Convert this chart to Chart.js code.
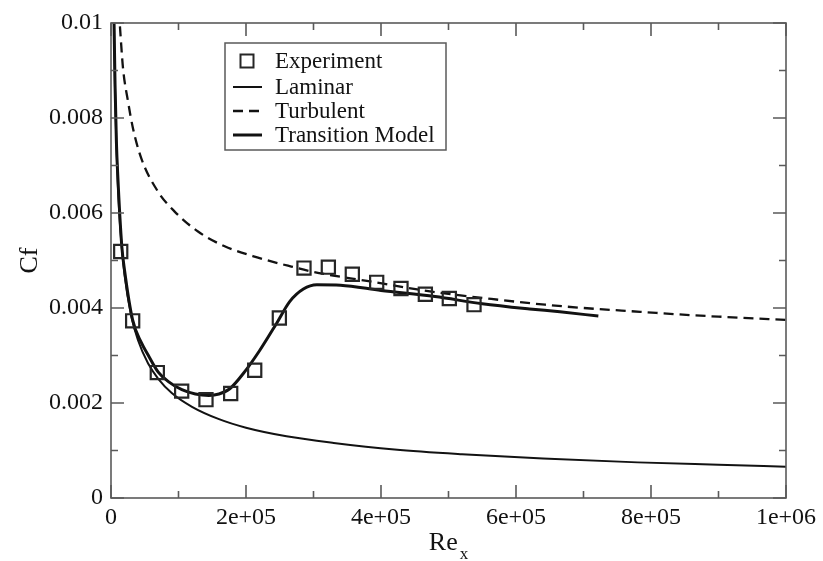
<!DOCTYPE html>
<html>
<head>
<meta charset="utf-8">
<script src="https://cdn.jsdelivr.net/npm/chart.js@4/dist/chart.umd.min.js"></script>
<style>
  html, body { margin: 0; padding: 0; background: #fff; }
  #wrap { width: 823px; height: 561px; }
</style>
</head>
<body>
<div id="wrap"><canvas id="cf" width="823" height="561"></canvas></div>
<script>
// tick labels
const xTickLabels = ['0', '2e+05', '4e+05', '6e+05', '8e+05', '1e+06'];
const yTickLabels = ['0', '0.002', '0.004', '0.006', '0.008', '0.01'];

// experiment (squares)
const expRe = [14400, 32100, 68600, 104700, 140700, 177300, 212900, 249400, 285900, 322000, 357500, 393600, 429600, 465700, 501200, 537800];
const expCf = [0.00519, 0.00373, 0.00264, 0.00225, 0.00207, 0.00220, 0.00269, 0.00379, 0.00484, 0.00486, 0.00471, 0.00454, 0.00441, 0.00429, 0.00420, 0.00407];

// laminar curve
const lamRe = [4000, 5000, 6000, 8000, 10000, 14000, 20000, 30000, 40000, 55000, 70000, 90000, 120000, 160000, 200000, 260000, 330000, 420000, 520000, 640000, 780000, 900000, 1000000];
const lamCf = [0.0105, 0.00939, 0.00857, 0.00742, 0.00664, 0.00561, 0.00470, 0.00383, 0.00332, 0.00283, 0.00251, 0.00221, 0.00192, 0.00166, 0.00148, 0.00130, 0.00116, 0.00102, 0.00092, 0.00083, 0.00075, 0.00070, 0.00066];

// turbulent curve (dashed)
const turbRe = [10000, 12900, 17800, 25200, 32600, 44900, 69600, 94300, 128900, 168400, 217800, 262200, 300000, 379000, 477500, 576000, 643000, 700000, 784000, 858000, 912000, 1000000];
const turbCf = [0.0106, 0.0100, 0.00905, 0.00835, 0.00778, 0.00715, 0.00645, 0.00603, 0.00561, 0.00530, 0.00506, 0.00489, 0.00476, 0.00457, 0.00434, 0.00417, 0.00407, 0.00400, 0.00392, 0.00385, 0.00381, 0.00375];

// transition model curve
const tranRe = [4500, 6000, 8000, 10000, 16000, 20000, 32000, 45000, 55000, 70000, 85000, 105000, 125000, 145000, 160000, 176000, 196000, 220000, 245000, 265000, 285000, 305000, 340000, 400000, 480000, 550000, 620000, 665000, 722000];
const tranCf = [0.0100, 0.0087, 0.0075, 0.0068, 0.0053, 0.0048, 0.00375, 0.00327, 0.00301, 0.00265, 0.00245, 0.00228, 0.00219, 0.00216, 0.00219, 0.00230, 0.00262, 0.00310, 0.00367, 0.00414, 0.00440, 0.00449, 0.00448, 0.00437, 0.00424, 0.00409, 0.00398, 0.00392, 0.00383];

const pts = (xs, ys) => xs.map((x, i) => ({ x: x, y: ys[i] }));

const INK = '#121212';
const AXIS = '#5a5a5a';
const SERIF = '"Liberation Serif", "Times New Roman", serif';

// box, inward ticks on all four sides, axis titles
const frame = {
  id: 'frame',
  afterDatasetsDraw(chart) {
    const { ctx, chartArea: a, scales } = chart;
    const xs = scales.x, ys = scales.y;
    ctx.save();
    ctx.strokeStyle = AXIS;
    ctx.lineWidth = 1.6;
    ctx.strokeRect(a.left, a.top, a.right - a.left, a.bottom - a.top);
    ctx.beginPath();
    for (let v = 0; v <= 1e6 + 1; v += 1e5) {
      const px = xs.getPixelForValue(v);
      const len = (Math.round(v / 1e5) % 2 === 0) ? 13 : 7;
      ctx.moveTo(px, a.bottom); ctx.lineTo(px, a.bottom - len);
      ctx.moveTo(px, a.top); ctx.lineTo(px, a.top + len);
    }
    for (let k = 0; k <= 10; k++) {
      const py = ys.getPixelForValue(k * 0.001);
      const len = (k % 2 === 0) ? 13 : 7;
      ctx.moveTo(a.left, py); ctx.lineTo(a.left + len, py);
      ctx.moveTo(a.right, py); ctx.lineTo(a.right - len, py);
    }
    ctx.stroke();

    // axis titles
    ctx.fillStyle = INK;
    ctx.font = '26px ' + SERIF;
    ctx.textBaseline = 'alphabetic';
    const cx = (a.left + a.right) / 2;
    const reW = ctx.measureText('Re').width;
    ctx.font = '17px ' + SERIF;
    const subW = ctx.measureText('x').width;
    const startX = cx - (reW + subW + 2) / 2;
    ctx.font = '26px ' + SERIF;
    ctx.textAlign = 'left';
    ctx.fillText('Re', startX, 550);
    ctx.font = '17px ' + SERIF;
    ctx.fillText('x', startX + reW + 2, 559);

    ctx.translate(30, (a.top + a.bottom) / 2);
    ctx.rotate(-Math.PI / 2);
    ctx.font = '26px ' + SERIF;
    ctx.textAlign = 'center';
    ctx.textBaseline = 'middle';
    ctx.fillText('Cf', 0, 0);
    ctx.restore();
  }
};

// legend box inside the plot
const legendBox = {
  id: 'legendBox',
  afterDraw(chart) {
    const { ctx } = chart;
    const left = 225, top = 43, w = 221, h = 107;
    ctx.save();
    ctx.fillStyle = '#fff';
    ctx.fillRect(left, top, w, h);
    ctx.strokeStyle = AXIS;
    ctx.lineWidth = 1.5;
    ctx.strokeRect(left, top, w, h);
    const rows = [61, 87, 111, 135];
    chart.data.datasets.forEach((ds, i) => {
      const y = rows[i];
      ctx.strokeStyle = ds.borderColor;
      if (ds.showLine === false) {
        ctx.lineWidth = 2;
        ctx.setLineDash([]);
        ctx.strokeRect(240.5, y - 6.5, 13, 13);
      } else {
        ctx.lineWidth = ds.borderWidth;
        ctx.setLineDash(ds.borderDash || []);
        ctx.beginPath();
        ctx.moveTo(233, y);
        ctx.lineTo(262, y);
        ctx.stroke();
      }
      ctx.setLineDash([]);
      ctx.fillStyle = INK;
      ctx.font = '23px ' + SERIF;
      ctx.textAlign = 'left';
      ctx.textBaseline = 'middle';
      ctx.fillText(ds.label, 275, y + 1);
    });
    ctx.restore();
  }
};

new Chart(document.getElementById('cf'), {
  type: 'scatter',
  data: {
    datasets: [
      {
        label: 'Experiment', data: pts(expRe, expCf), showLine: false,
        pointStyle: 'rect', pointRadius: 9.3, pointBorderWidth: 2.2,
        borderColor: '#262626', backgroundColor: 'rgba(0,0,0,0)', order: 0
      },
      {
        label: 'Laminar', data: pts(lamRe, lamCf), showLine: true, pointRadius: 0,
        borderColor: INK, borderWidth: 2, cubicInterpolationMode: 'monotone', clip: 0
      },
      {
        label: 'Turbulent', data: pts(turbRe, turbCf), showLine: true, pointRadius: 0,
        borderColor: INK, borderWidth: 2.3, borderDash: [10, 6], cubicInterpolationMode: 'monotone', clip: 0
      },
      {
        label: 'Transition Model', data: pts(tranRe, tranCf), showLine: true, pointRadius: 0,
        borderColor: INK, borderWidth: 3, cubicInterpolationMode: 'monotone', clip: 0
      }
    ]
  },
  options: {
    responsive: false,
    animation: false,
    devicePixelRatio: 1,
    layout: { padding: { top: 23, right: 37, left: 0, bottom: 0 } },
    plugins: { legend: { display: false }, tooltip: { enabled: false } },
    scales: {
      x: {
        type: 'linear', min: 0, max: 1000000,
        grid: { display: false, drawTicks: false }, border: { display: false },
        ticks: {
          stepSize: 200000, padding: 5, color: INK, maxRotation: 0,
          font: { family: SERIF, size: 24 },
          callback: (v, i) => xTickLabels[i]
        },
        afterFit: s => { s.height = 63; }
      },
      y: {
        type: 'linear', min: 0, max: 0.01,
        grid: { display: false, drawTicks: false }, border: { display: false },
        ticks: {
          stepSize: 0.002, padding: 8, color: INK,
          font: { family: SERIF, size: 24 },
          callback: (v, i) => yTickLabels[i]
        },
        afterFit: s => { s.width = 111; }
      }
    }
  },
  plugins: [frame, legendBox]
});
</script>
</body>
</html>
